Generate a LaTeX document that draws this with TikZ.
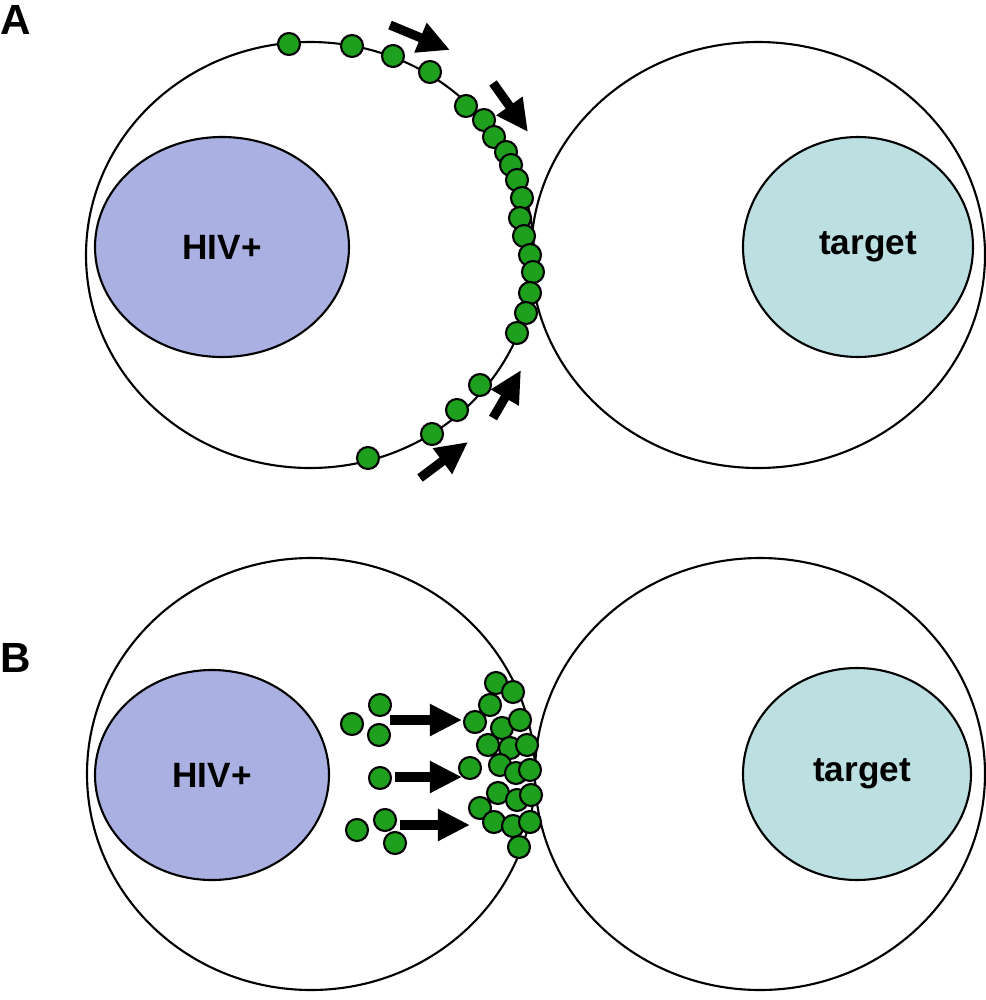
\documentclass[tikz,border=0pt]{standalone}
\usepackage{fontspec}
\setmainfont{Liberation Sans}
\usetikzlibrary{arrows.meta}
\definecolor{hiv}{RGB}{170,176,225}
\definecolor{tgt}{RGB}{188,224,226}
\definecolor{dot}{RGB}{30,160,30}
\begin{document}
\begin{tikzpicture}[x=0.01cm,y=-0.01cm,
 cell/.style={draw=black,line width=0.6pt},
 lab/.style={font=\bfseries\fontsize{10}{12}\selectfont},
 plab/.style={font=\bfseries\fontsize{12}{14}\selectfont},
 gd/.style={circle,draw=black,fill=dot,line width=0.6pt,minimum size=0.22cm,inner sep=0pt},
 arr/.style={line width=2.6pt,-{Triangle[length=0.32cm,width=0.3cm]}}]
\useasboundingbox (0,0) rectangle (986,1000);
% panel A
\node[plab] (la) at (16,20) {A};
\draw[cell] (310,255) ellipse [x radius=224,y radius=213];
\draw[cell] (758,255) ellipse [x radius=227,y radius=213];
\fill[hiv,draw=black,line width=0.6pt] (222,247) ellipse [x radius=127,y radius=110];
\fill[tgt,draw=black,line width=0.6pt] (858,247) ellipse [x radius=115,y radius=110];
\node[lab] (h1) at (222,247) {HIV+};
\node[lab] (t1) at (868,247) {target};
\foreach \x/\y [count=\i] in {289/44,352/46,393/56,430/72,466/106,484/120,494/137,506/152,511/165,517/180,522/198,520/218,524/236,530/255,533/272,530/293,526/313,517/333,480/385,457/410,432/434,368/458}
  \node[gd] (a\i) at (\x,\y) {};
\coordinate (p1) at (390,25); \coordinate (q1) at (450,50);
\coordinate (p2) at (493,83); \coordinate (q2) at (528,132);
\coordinate (p3) at (420,478); \coordinate (q3) at (468,442);
\coordinate (p4) at (493,418); \coordinate (q4) at (521,370);
\foreach \i in {1,...,4} \draw[arr] (p\i) -- (q\i);
% panel B
\node[plab] (lb) at (16,658) {B};
\draw[cell] (311,774) ellipse [x radius=224,y radius=216];
\draw[cell] (760,774) ellipse [x radius=225,y radius=216];
\fill[hiv,draw=black,line width=0.6pt] (212,775) ellipse [x radius=117,y radius=105];
\fill[tgt,draw=black,line width=0.6pt] (857,774) ellipse [x radius=114,y radius=106];
\node[lab] (h2) at (212,775) {HIV+};
\node[lab] (t2) at (862,774) {target};
\foreach \x/\y [count=\i] in {380/705,352/724,379/735,380/778,385/820,357/830,395/843,496/683,513/692,490/705,475/722,502/728,520/720,488/745,510/748,527/745,500/765,470/768,516/773,530/770,498/793,517/800,531/795,480/808,494/822,513/826,530/822,519/847}
  \node[gd] (b\i) at (\x,\y) {};
\coordinate (r1) at (390,720); \coordinate (s1) at (462,720);
\coordinate (r2) at (395,777); \coordinate (s2) at (462,777);
\coordinate (r3) at (400,825); \coordinate (s3) at (470,825);
\foreach \i in {1,...,3} \draw[arr] (r\i) -- (s\i);
\end{tikzpicture}
\end{document}
